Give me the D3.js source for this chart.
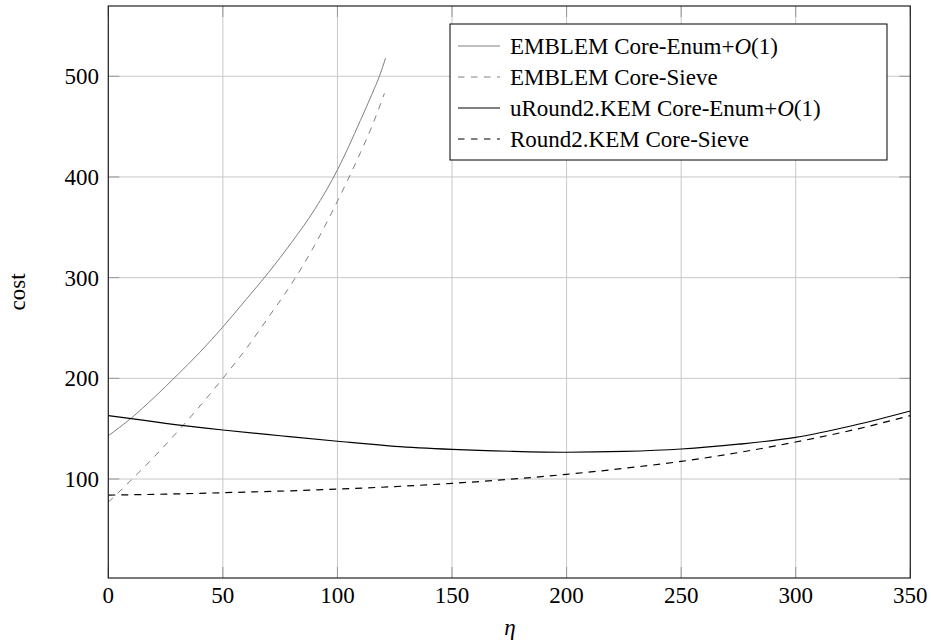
<!DOCTYPE html>
<html><head><meta charset="utf-8">
<script src="https://cdn.jsdelivr.net/npm/d3@7"></script>
<style>body{margin:0;background:#fff}svg{display:block}</style>
</head><body>
<script>
// data
const emblemEnumX  = [0, 10, 20, 30, 40, 50, 60, 70, 80, 90, 100, 110, 115, 118.3, 121];
const emblemEnumY  = [143, 160.5, 181, 203, 226, 251, 278, 305.3, 335, 367.5, 407, 456, 482, 500, 518];
const emblemSieveX = [0, 10, 20, 30, 40, 50, 60, 70, 80, 90, 100, 110, 115, 120.5];
const emblemSieveY = [77, 99, 122, 146.5, 172.5, 200, 229, 261, 294, 332, 376, 424, 450, 483];
const r2EnumX  = [0, 10, 25, 50, 75, 100, 125, 150, 175, 200, 225, 250, 275, 300, 325, 350];
const r2EnumY  = [163, 160, 155.3, 148.7, 143, 137.5, 132.5, 129.5, 127.6, 126.6, 127.4, 129.8, 134.6, 141.4, 153.2, 167.6];
const r2SieveX = [0, 25, 50, 75, 100, 125, 150, 175, 200, 225, 250, 275, 300, 325, 350];
const r2SieveY = [84, 85, 86.4, 88, 90, 92.5, 95.7, 99.7, 104.7, 110.6, 117.5, 126.3, 136.8, 148.7, 163];
const xTicks = [0, 50, 100, 150, 200, 250, 300, 350];
const yTicks = [100, 200, 300, 400, 500];
const seriesNames = ["EMBLEM Core-Enum+", "EMBLEM Core-Sieve", "uRound2.KEM Core-Enum+", "Round2.KEM Core-Sieve"];
const xLimits = [0, 350];
const yLimits = [1.7, 569.8];

const W = 931, H = 642;
const L = 108.3, R = 910.3, T = 6, B = 578;
const FONT = "'Liberation Serif', 'Times New Roman', Times, serif";
const svg = d3.select("body").append("svg").attr("width", W).attr("height", H)
  .attr("font-family", FONT).style("font-family", FONT);
const x = d3.scaleLinear().domain(xLimits).range([L, R]);
const y = d3.scaleLinear().domain(yLimits).range([B, T]);

const series = [
  {xs: emblemEnumX, ys: emblemEnumY, color: "#808080", dash: null, w: 1},
  {xs: emblemSieveX, ys: emblemSieveY, color: "#808080", dash: "6.5,6.5", w: 1},
  {xs: r2EnumX, ys: r2EnumY, color: "#000", dash: null, w: 1.2},
  {xs: r2SieveX, ys: r2SieveY, color: "#000", dash: "7,6", w: 1.2}
];

// grid
const g = svg.append("g");
g.selectAll(".gx").data(xTicks).enter().append("line")
  .attr("x1", d => x(d)).attr("x2", d => x(d)).attr("y1", T).attr("y2", B)
  .attr("stroke", "#c8c8c8").attr("stroke-width", 1);
g.selectAll(".gy").data(yTicks).enter().append("line")
  .attr("x1", L).attr("x2", R).attr("y1", d => y(d)).attr("y2", d => y(d))
  .attr("stroke", "#c8c8c8").attr("stroke-width", 1);

// lines
const line = d3.line().x(d => x(d[0])).y(d => y(d[1])).curve(d3.curveMonotoneX);
series.forEach(s => {
  const pts = s.xs.map((v, i) => [v, s.ys[i]]);
  svg.append("path").attr("d", line(pts)).attr("fill", "none")
    .attr("stroke", s.color).attr("stroke-width", s.w)
    .attr("stroke-dasharray", s.dash);
});

// ticks (inward, all sides)
const tk = 11;
xTicks.forEach(d => {
  svg.append("line").attr("x1", x(d)).attr("x2", x(d)).attr("y1", B).attr("y2", B - tk).attr("stroke", "#999");
  svg.append("line").attr("x1", x(d)).attr("x2", x(d)).attr("y1", T).attr("y2", T + tk).attr("stroke", "#999");
});
yTicks.forEach(d => {
  svg.append("line").attr("x1", L).attr("x2", L + tk).attr("y1", y(d)).attr("y2", y(d)).attr("stroke", "#999");
  svg.append("line").attr("x1", R).attr("x2", R - tk).attr("y1", y(d)).attr("y2", y(d)).attr("stroke", "#999");
});

// frame
svg.append("rect").attr("x", L).attr("y", T).attr("width", R - L).attr("height", B - T)
  .attr("fill", "none").attr("stroke", "#222").attr("stroke-width", 1.2);

// tick labels
svg.selectAll(".xl").data(xTicks).enter().append("text")
  .attr("x", d => x(d)).attr("y", 595).attr("dy", "0.35em")
  .attr("text-anchor", "middle").attr("font-size", 23).text(d => d);
svg.selectAll(".yl").data(yTicks).enter().append("text")
  .attr("x", 99).attr("y", d => y(d)).attr("dy", "0.35em")
  .attr("text-anchor", "end").attr("font-size", 23).text(d => d);

// axis labels
svg.append("text").attr("x", 510).attr("y", 628).attr("dy", "0.3em")
  .attr("text-anchor", "middle").attr("font-size", 23).attr("font-style", "italic").text("η");
svg.append("text").attr("transform", "translate(17,292) rotate(-90)").attr("dy", "0.35em")
  .attr("text-anchor", "middle").attr("font-size", 23).text("cost");

// legend
const lg = svg.append("g");
lg.append("rect").attr("x", 450).attr("y", 24).attr("width", 437).attr("height", 136)
  .attr("fill", "#fff").attr("stroke", "#000").attr("stroke-width", 1);
series.forEach((s, i) => {
  const cy = 46 + i * 31;
  lg.append("line").attr("x1", 458).attr("x2", 500).attr("y1", cy).attr("y2", cy)
    .attr("stroke", s.color).attr("stroke-width", s.w).attr("stroke-dasharray", s.dash ? "6.5,6.5" : null);
  const t = lg.append("text").attr("x", 510).attr("y", cy).attr("dy", "0.35em").attr("font-size", 23);
  t.append("tspan").text(seriesNames[i]);
  if (i === 0 || i === 2) {
    t.append("tspan").attr("font-style", "italic").text("O");
    t.append("tspan").text("(1)");
  }
});
</script>
</body></html>
